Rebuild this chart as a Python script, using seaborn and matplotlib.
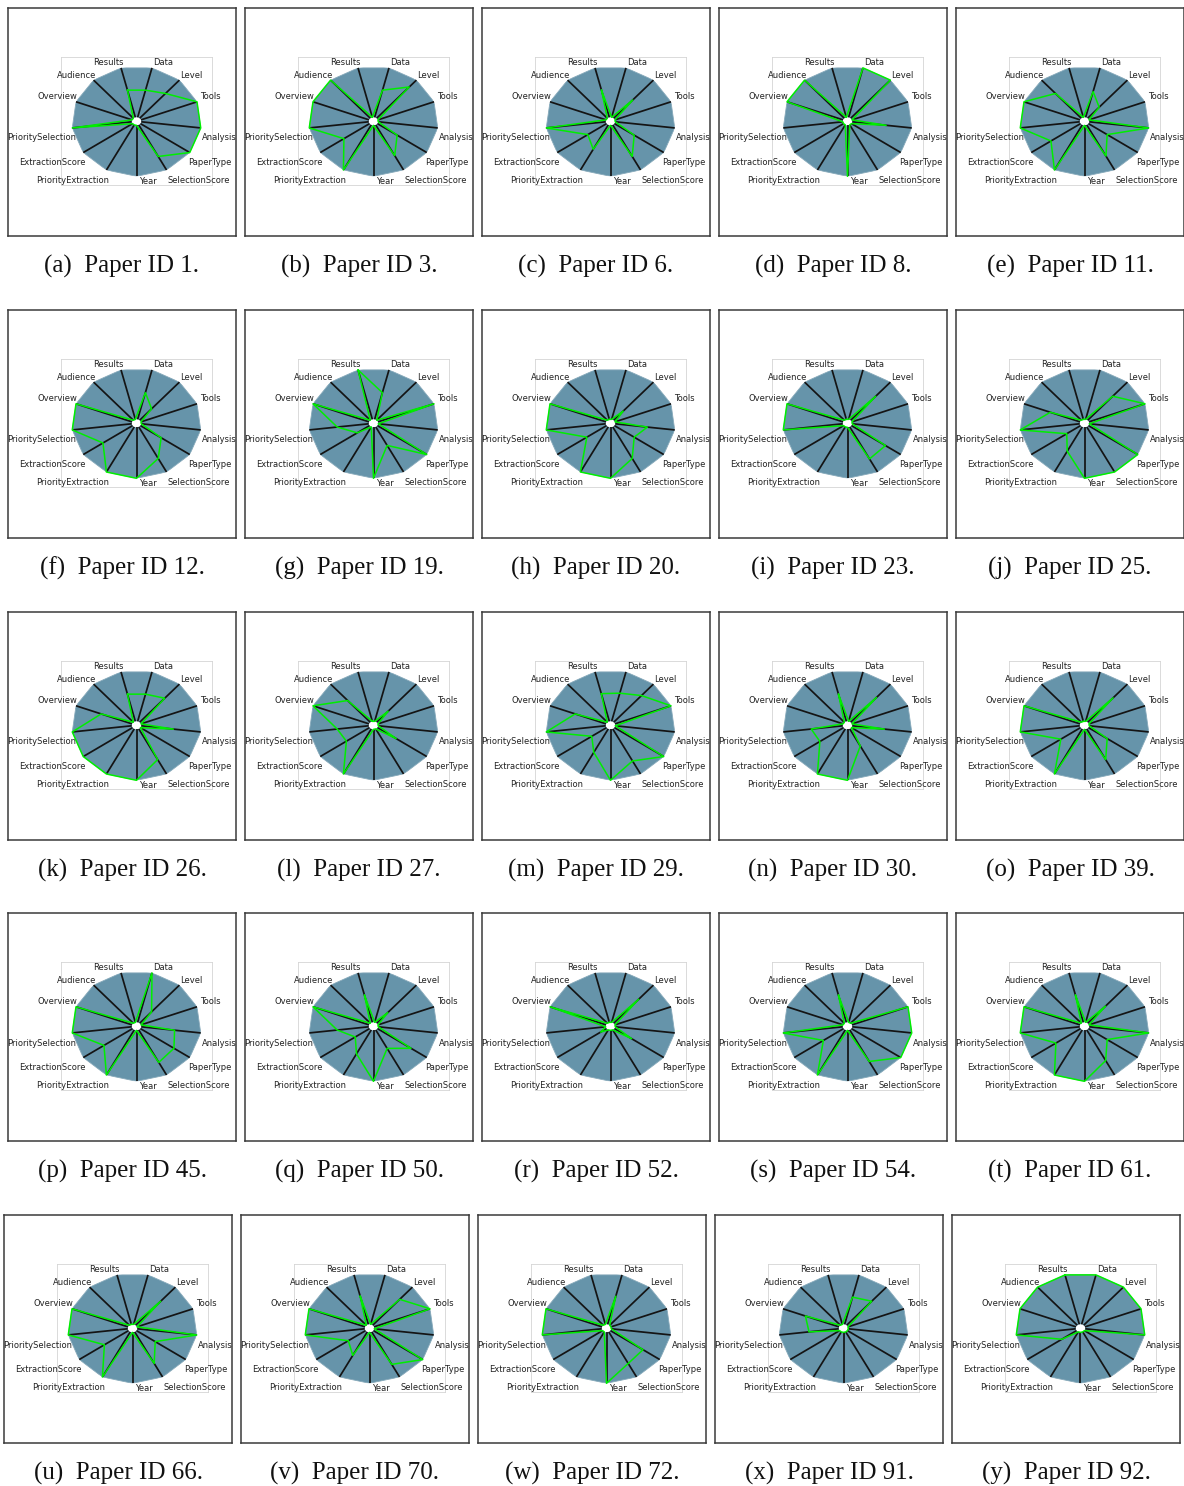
import numpy as np
import pandas as pd
import matplotlib
matplotlib.use("Agg")
import matplotlib.pyplot as plt
import seaborn as sns

# Radar axes, clockwise from the top
AXES = ["Results", "Data", "Level", "Tools", "Analysis", "PaperType",
        "SelectionScore", "Year", "PriorityExtraction", "ExtractionScore",
        "PrioritySelection", "Overview", "Audience"]

PAPER_IDS = [1, 3, 6, 8, 11, 12, 19, 20, 23, 25, 26, 27, 29, 30, 39,
             45, 50, 52, 54, 61, 66, 70, 72, 91, 92]
LETTERS = list("abcdefghijklmnopqrstuvwxy")

# Normalised scores per paper, in AXES order
paper_01 = [0.55, 0.55, 0.65, 1.00, 1.00, 1.00, 0.70, 0.00, 0.00, 0.00, 1.00, 0.00, 0.00]
paper_03 = [0.00, 0.55, 0.82, 0.00, 0.00, 0.40, 0.68, 0.00, 1.00, 0.52, 1.00, 1.00, 1.00]
paper_06 = [0.55, 0.00, 0.48, 0.00, 0.00, 0.40, 0.70, 0.00, 0.54, 0.38, 1.00, 0.00, 0.00]
paper_08 = [0.00, 1.00, 1.00, 0.00, 0.57, 0.00, 0.00, 1.00, 0.00, 0.00, 0.00, 1.00, 1.00]
paper_11 = [0.00, 0.52, 0.29, 0.00, 1.00, 0.38, 0.69, 0.00, 1.00, 0.60, 1.00, 1.00, 0.65]
paper_12 = [0.00, 0.54, 0.30, 0.00, 0.00, 0.42, 0.70, 1.00, 1.00, 0.60, 1.00, 1.00, 0.00]
paper_19 = [1.00, 0.54, 0.00, 1.00, 0.00, 1.00, 0.41, 1.00, 0.00, 0.25, 0.53, 1.00, 0.00]
paper_20 = [0.00, 0.00, 0.24, 0.00, 0.54, 0.40, 0.70, 1.00, 1.00, 0.40, 1.00, 1.00, 0.00]
paper_23 = [0.00, 0.00, 0.63, 0.00, 0.00, 0.69, 0.71, 0.00, 0.00, 0.00, 1.00, 1.00, 0.00]
paper_25 = [0.00, 0.00, 0.63, 1.00, 0.00, 1.00, 1.00, 1.00, 0.54, 0.28, 1.00, 0.53, 0.00]
paper_26 = [0.55, 0.55, 0.63, 0.00, 0.54, 0.00, 0.68, 1.00, 1.00, 1.00, 1.00, 0.55, 0.00]
paper_27 = [0.00, 0.00, 0.29, 0.00, 0.00, 0.38, 0.00, 0.00, 1.00, 0.47, 0.53, 1.00, 0.57]
paper_29 = [0.56, 0.57, 0.70, 1.00, 0.00, 1.00, 0.71, 1.00, 0.52, 0.30, 1.00, 0.55, 0.00]
paper_30 = [0.55, 0.00, 0.65, 0.00, 0.54, 0.00, 0.38, 1.00, 1.00, 0.48, 0.53, 0.00, 0.00]
paper_39 = [0.00, 0.00, 0.64, 0.00, 0.00, 0.38, 0.68, 0.00, 1.00, 0.40, 1.00, 1.00, 0.00]
paper_45 = [0.00, 1.00, 0.30, 0.00, 0.56, 0.68, 0.72, 0.00, 1.00, 0.58, 1.00, 1.00, 0.00]
paper_50 = [0.55, 0.00, 0.28, 0.00, 0.00, 0.68, 0.41, 1.00, 0.53, 0.29, 0.53, 1.00, 0.00]
paper_52 = [0.00, 0.00, 0.63, 0.00, 0.00, 0.35, 0.00, 0.00, 0.00, 0.12, 0.00, 1.00, 0.00]
paper_54 = [0.55, 0.00, 0.00, 1.00, 1.00, 1.00, 0.70, 0.00, 1.00, 0.41, 1.00, 0.00, 0.00]
paper_61 = [0.55, 0.00, 0.45, 0.00, 1.00, 0.38, 0.68, 1.00, 1.00, 0.50, 1.00, 1.00, 0.00]
paper_66 = [0.00, 0.00, 0.63, 0.00, 1.00, 0.38, 0.70, 0.00, 1.00, 0.49, 1.00, 1.00, 0.00]
paper_70 = [0.57, 0.00, 0.68, 1.00, 0.00, 1.00, 0.72, 0.00, 0.52, 0.35, 1.00, 1.00, 0.00]
paper_72 = [0.00, 0.57, 0.00, 0.00, 0.00, 0.66, 0.70, 1.00, 0.00, 0.00, 1.00, 1.00, 0.00]
paper_91 = [0.00, 0.55, 0.63, 0.00, 0.00, 0.00, 0.00, 0.00, 0.00, 0.00, 0.50, 0.60, 0.00]
paper_92 = [1.00, 1.00, 1.00, 1.00, 1.00, 0.00, 0.00, 0.00, 0.00, 0.30, 1.00, 1.00, 1.00]

SCORES = [paper_01, paper_03, paper_06, paper_08, paper_11, paper_12, paper_19,
          paper_20, paper_23, paper_25, paper_26, paper_27, paper_29, paper_30,
          paper_39, paper_45, paper_50, paper_52, paper_54, paper_61, paper_66,
          paper_70, paper_72, paper_91, paper_92]

# Label centres (pixels from the radar centre, y downwards)
LABEL_OFFSETS = [(-28.3, -59.0), (26.7, -59.0), (55.3, -45.7), (73.7, -24.7),
                 (82.7, 16.7), (73.7, 41.0), (62.0, 59.3), (11.3, 60.3),
                 (-63.7, 59.3), (-83.7, 41.0), (-95.3, 16.7), (-79.0, -24.7),
                 (-59.7, -45.7)]

sns.set_style("white")
plt.rcParams["font.family"] = ["DejaVu Sans"]

W, H = 1184, 1486
fig = plt.figure(figsize=(W / 100, H / 100), dpi=100)


def frac(x, y, w, h):
    """Pixel box (top-left origin) -> figure fraction rect."""
    return [x / W, 1 - (y + h) / H, w / W, h / H]


COL_LEFT = [8, 245, 482, 719, 956]
ROW_TOP = [8, 310, 612, 913, 1215]
PANEL = 228
BLUE = "#6694aa"
GREEN = "#00ee00"

n = len(AXES)
theta = np.arange(n) * 2 * np.pi / n - np.pi / n
theta_c = np.append(theta, theta[0])

for i, (pid, vals) in enumerate(zip(PAPER_IDS, SCORES)):
    r, c = divmod(i, 5)
    L = COL_LEFT[c] - (4 if r == 4 else 0)
    T = ROW_TOP[r]

    # outer panel frame
    fr = fig.add_axes(frac(L, T, PANEL, PANEL))
    fr.set_xticks([])
    fr.set_yticks([])
    fr.set_facecolor("white")
    for s in fr.spines.values():
        s.set_visible(True)
        s.set_color("#3a3a3a")
        s.set_linewidth(1.1)

    cx, cy = L + 128.5, T + 113.3

    # light box around the radar, also used to place the axis labels
    box = fig.add_axes(frac(cx - 75.5, cy - 64, 151, 128))
    box.set_xlim(-75.5, 75.5)
    box.set_ylim(64, -64)
    box.set_xticks([])
    box.set_yticks([])
    box.patch.set_alpha(0)
    for s in box.spines.values():
        s.set_visible(True)
        s.set_color("#d4d4d4")
        s.set_linewidth(0.6)

    # radar
    pol = fig.add_axes(frac(cx - 64.7, cy - 55, 129.4, 110), projection="polar")
    pol.set_aspect("auto")
    pol.set_theta_zero_location("N")
    pol.set_theta_direction(-1)
    pol.fill(theta_c, np.ones(n + 1), color=BLUE, lw=0.6, ec="#86a9ba", zorder=1)
    for t in theta:
        pol.plot([t, t], [0, 1], color="#141414", lw=1.25,
                 solid_capstyle="butt", zorder=2)
    df = pd.DataFrame({"theta": theta_c, "score": np.append(vals, vals[0])})
    sns.lineplot(data=df, x="theta", y="score", sort=False, estimator=None,
                 color=GREEN, lw=1.1, ax=pol, zorder=3)
    for ln in pol.lines:
        ln.set_clip_on(False)
    pol.set_ylim(0, 1)
    pol.set_rorigin(-0.08)
    pol.set_axis_off()

    for lab, (dx, dy) in zip(AXES, LABEL_OFFSETS):
        box.text(dx, dy, lab, ha="center", va="center", fontsize=6.0,
                 color="#222222", clip_on=False, zorder=5)

    fig.text((L + 114) / W, 1 - (T + 258) / H,
             f"({LETTERS[i]})  Paper ID {pid}.", ha="center", va="center",
             fontsize=18, family=["Liberation Serif", "DejaVu Serif"],
             color="#111111")

fig.savefig("out.png", dpi=100, facecolor="white")
